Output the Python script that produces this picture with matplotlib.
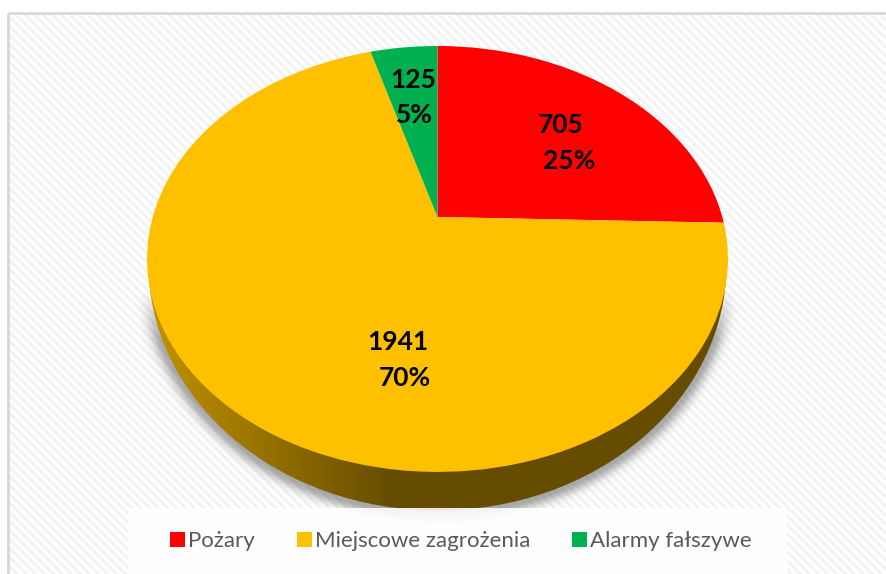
import numpy as np
import matplotlib
matplotlib.use("Agg")
import matplotlib.pyplot as plt
from matplotlib.patches import Ellipse, Rectangle
from matplotlib.transforms import Transform

categories = ["Pożary", "Miejscowe zagrożenia", "Alarmy fałszywe"]
values = [705, 1941, 125]
percents = ["25%", "70%", "5%"]
colors = ["#FF0000", "#FFC000", "#00B050"]

W, H = 887, 574
plt.rcParams["font.family"] = ["Lato", "DejaVu Sans"]


class Perspective(Transform):
    """Tilts the unit-circle pie into the pixel frame of the axes."""
    input_dims = output_dims = 2

    def transform_non_affine(self, xy):
        xy = np.asarray(xy, float)
        d = 0.197
        den = 1 + d * xy[:, 1]
        return np.column_stack((437.5 + 284.8 * xy[:, 0] / den,
                                217 - 204.7 * xy[:, 1] / den))


fig = plt.figure(figsize=(W / 100, H / 100), dpi=100, facecolor="white")
ax = fig.add_axes([0, 0, 1, 1])

# Slices first; pie() resets the limits so they are fixed afterwards
wedges, _ = ax.pie(values, colors=colors, startangle=90, counterclock=False,
                   radius=1, center=(0, 0), normalize=True)
proj = Perspective() + ax.transData
for w in wedges:
    w.set_transform(proj)
    w.set_zorder(5)
    w.set_linewidth(0)
    w.set_antialiased(True)

yy, xx = np.mgrid[0:H, 0:W]

# Striped chart area background
stripe = ((xx - yy) % 9 < 4)
bg = np.where(stripe, 0.955, 1.0)
bg[yy < 14] = 1.0
bg[xx < 9] = 1.0
ax.imshow(bg, cmap="gray", vmin=0, vmax=1, extent=(0, W, H, 0), zorder=0,
          interpolation="nearest", aspect="auto")
ax.add_patch(Rectangle((8, 13), W, H, fc="none", ec="#D9D9D9", lw=2, zorder=1))

# Soft shadow below the pie side
cx, cy, A, B = 437.5, 264.5, 289.0, 246.0
dist = (np.sqrt(((xx + .5 - cx) / A) ** 2 + ((yy + .5 - cy - 2) / B) ** 2) - 1) * 245
sh = 0.6 * np.exp(-(np.clip(dist, 0, None) / 8.0) ** 2) * np.clip((yy - 290) / 50, 0, 1)
rgba = np.zeros((H, W, 4))
rgba[..., :3] = 0.45
rgba[..., 3] = sh
ax.imshow(rgba, extent=(0, W, H, 0), zorder=2, aspect="auto", interpolation="bilinear")

# Extruded side with horizontal gradient
side = Ellipse((cx, cy), 2 * A, 2 * B, fc="none", ec="none", zorder=3)
ax.add_patch(side)
gx = np.arange(W)
grad = np.zeros((H, W, 3))
for i, (c0, c1) in enumerate(zip((0.76, 0.58), (0.40, 0.30))):
    grad[..., i] = np.interp(gx, [147, 390], [c0, c1])
mask = np.ones((H, W, 1))
mask[yy < 259] = 0
im = ax.imshow(np.dstack((grad, mask)), extent=(0, W, H, 0), zorder=3,
               aspect="auto", interpolation="nearest")
im.set_clip_path(side)

# Legend panel
ax.add_patch(Rectangle((128, 508), 659, 66, fc="white", ec="none", alpha=0.88, zorder=6))

# Data labels
label_pos = [((561, 125), (569, 161)), ((398, 342), (405, 378)), ((413, 80), (414, 115))]
for v, p, (a, b) in zip(values, percents, label_pos):
    ax.text(*a, str(v), ha="center", va="center", fontsize=19, fontweight="bold", color="black", zorder=7)
    ax.text(*b, p, ha="center", va="center", fontsize=19, fontweight="bold", color="black", zorder=7)

ax.set_xlim(0, W)
ax.set_ylim(H, 0)
ax.set_aspect("auto")
ax.axis("off")

leg = ax.legend(wedges, categories, loc="center", bbox_to_anchor=(461, 541),
                bbox_transform=ax.transData, ncol=3, frameon=False, fontsize=16,
                labelcolor="#595959", handlelength=0.68, handleheight=0.68,
                handletextpad=0.12, columnspacing=1.9, borderpad=0, borderaxespad=0)
leg.set_zorder(8)

fig.savefig("out.png", dpi=100, facecolor="white")
